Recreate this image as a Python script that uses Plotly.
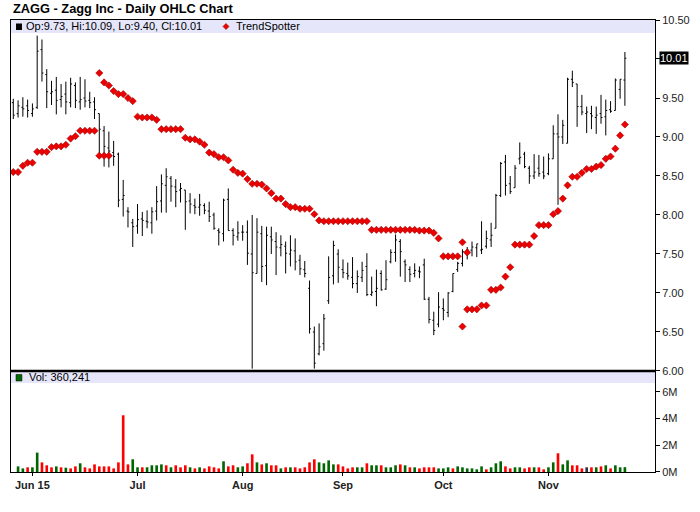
import pandas as pd
import plotly.graph_objects as go

# trading days on the chart, May 26 2015 .. Nov 24 2015 (market holidays left out)
holidays = ['2015-07-03', '2015-09-07']
days = [d.strftime('%Y-%m-%d') for d in pd.bdate_range('2015-05-26', '2015-11-24')
        if d.strftime('%Y-%m-%d') not in holidays]

opens = [9.44, 9.30, 9.38, 9.40, 9.30, 9.38, 10.12, 9.80, 9.56, 9.60,
         9.48, 9.55, 9.44, 9.66, 9.45, 9.50, 9.47, 9.45, 9.30, 9.08,
         8.86, 8.80, 8.78, 8.20, 8.05, 7.90, 7.86, 7.95, 7.92, 7.90,
         8.05, 8.18, 8.38, 8.47, 8.36, 8.32, 8.32, 8.18, 8.12, 8.10,
         8.12, 8.05, 8.00, 7.80, 7.76, 8.20, 7.80, 7.72, 7.78, 7.78,
         7.50, 7.25, 7.76, 7.35, 7.72, 7.66, 7.58, 7.60, 7.50, 7.54,
         7.42, 7.30, 7.06, 6.50, 6.22, 6.35, 6.90, 7.22, 7.50, 7.30,
         7.25, 7.20, 7.12, 7.20, 7.34, 6.98, 7.02, 7.25, 7.05, 7.40,
         7.52, 7.66, 7.40, 7.30, 7.25, 7.28, 7.36, 6.92, 6.65, 6.60,
         6.80, 6.75, 7.02, 7.30, 7.38, 7.50, 7.55, 7.58, 7.55, 7.60,
         7.68, 7.83, 8.25, 8.68, 8.40, 8.35, 8.72, 8.78, 8.60, 8.50,
         8.60, 8.55, 8.53, 8.72, 9.04, 9.00, 8.92, 9.74, 9.68, 9.39,
         9.30, 9.30, 9.25, 9.30, 9.26, 9.35, 9.34, 9.61, 9.73]
highs = [9.49, 9.47, 9.51, 9.48, 9.43, 10.30, 10.25, 9.87, 9.72, 9.77,
         9.68, 9.71, 9.76, 9.70, 9.77, 9.74, 9.58, 9.51, 9.30, 9.14,
         9.07, 8.95, 8.80, 8.45, 8.10, 7.95, 8.14, 8.04, 8.06, 8.10,
         8.37, 8.52, 8.60, 8.50, 8.46, 8.41, 8.32, 8.28, 8.21, 8.27,
         8.15, 8.17, 8.03, 7.83, 8.21, 8.34, 7.83, 7.92, 7.87, 7.93,
         8.00, 7.96, 7.86, 7.85, 7.85, 7.78, 7.74, 7.66, 7.74, 7.70,
         7.49, 7.41, 7.16, 6.57, 6.61, 6.73, 7.47, 7.67, 7.56, 7.43,
         7.39, 7.46, 7.29, 7.40, 7.51, 7.21, 7.30, 7.29, 7.42, 7.56,
         7.75, 7.69, 7.43, 7.34, 7.38, 7.34, 7.44, 6.95, 6.76, 7.01,
         6.93, 7.01, 7.25, 7.40, 7.56, 7.59, 7.66, 7.63, 7.92, 7.80,
         7.90, 8.27, 8.68, 8.77, 8.50, 8.64, 8.93, 8.81, 8.63, 8.78,
         8.77, 8.75, 8.79, 9.15, 9.29, 9.22, 9.76, 9.85, 9.68, 9.54,
         9.39, 9.40, 9.39, 9.54, 9.48, 9.46, 9.75, 9.74, 10.09]
lows = [9.23, 9.25, 9.26, 9.25, 9.26, 9.36, 9.71, 9.37, 9.41, 9.29,
        9.38, 9.29, 9.38, 9.37, 9.35, 9.38, 9.37, 9.23, 8.77, 8.62,
        8.61, 8.63, 8.10, 7.98, 7.84, 7.59, 7.76, 7.73, 7.83, 7.76,
        7.93, 8.03, 8.03, 8.17, 8.10, 8.16, 7.81, 8.02, 8.01, 7.99,
        8.01, 7.91, 7.81, 7.61, 7.66, 7.80, 7.61, 7.67, 7.67, 7.36,
        6.03, 7.25, 7.14, 7.10, 7.50, 7.23, 7.47, 7.25, 7.34, 7.29,
        7.23, 7.20, 6.48, 6.03, 6.20, 6.26, 6.86, 7.11, 7.13, 7.19,
        7.17, 7.06, 7.00, 7.14, 6.96, 6.96, 6.83, 7.03, 7.04, 7.38,
        7.40, 7.21, 7.14, 7.14, 7.20, 7.19, 6.91, 6.61, 6.46, 6.56,
        6.65, 6.69, 7.01, 7.27, 7.34, 7.43, 7.47, 7.46, 7.50, 7.57,
        7.59, 7.83, 8.23, 8.25, 8.27, 8.35, 8.65, 8.60, 8.40, 8.46,
        8.49, 8.46, 8.51, 8.72, 8.13, 8.91, 8.92, 9.64, 9.13, 9.28,
        9.05, 9.10, 9.04, 9.17, 9.02, 9.31, 9.34, 9.49, 9.40]
closes = [9.28, 9.40, 9.36, 9.34, 9.36, 10.10, 9.82, 9.58, 9.58, 9.47,
          9.52, 9.45, 9.68, 9.47, 9.48, 9.46, 9.44, 9.35, 9.10, 8.88,
          8.82, 8.75, 8.19, 8.25, 8.04, 7.85, 7.94, 7.93, 7.91, 8.04,
          8.17, 8.40, 8.49, 8.37, 8.30, 8.34, 8.17, 8.14, 8.10, 8.13,
          8.06, 7.98, 7.83, 7.78, 8.19, 7.80, 7.74, 7.77, 7.78, 7.51,
          7.26, 7.78, 7.34, 7.74, 7.68, 7.59, 7.62, 7.51, 7.55, 7.40,
          7.31, 7.25, 6.54, 6.10, 6.31, 6.67, 7.20, 7.61, 7.33, 7.26,
          7.22, 7.12, 7.21, 7.29, 6.98, 7.01, 7.06, 7.04, 7.17, 7.52,
          7.68, 7.53, 7.36, 7.24, 7.29, 7.27, 6.92, 6.66, 6.52, 6.82,
          6.78, 7.00, 7.25, 7.38, 7.53, 7.55, 7.59, 7.63, 7.56, 7.70,
          7.74, 8.25, 8.66, 8.38, 8.30, 8.60, 8.74, 8.62, 8.50, 8.55,
          8.53, 8.50, 8.72, 9.04, 9.00, 9.15, 9.74, 9.70, 9.39, 9.32,
          9.32, 9.27, 9.28, 9.25, 9.34, 9.33, 9.73, 9.74, 10.01]

# volume in millions of shares, first day not drawn on the chart
volumes = [None, 0.42, 0.27, 0.35, 0.35, 1.45, 0.72, 0.50, 0.35, 0.42,
           0.35, 0.32, 0.27, 0.42, 0.65, 0.35, 0.27, 0.57, 0.42, 0.42,
           0.42, 0.27, 0.72, 4.24, 0.57, 0.95, 0.35, 0.35, 0.35, 0.50,
           0.50, 0.57, 0.50, 0.35, 0.50, 0.35, 0.50, 0.35, 0.27, 0.35,
           0.27, 0.42, 0.35, 0.27, 0.80, 0.42, 0.50, 0.35, 0.42, 0.65,
           1.32, 0.72, 0.57, 0.65, 0.50, 0.50, 0.27, 0.35, 0.35, 0.35,
           0.27, 0.35, 0.72, 0.95, 0.72, 0.65, 0.87, 0.57, 0.57, 0.42,
           0.27, 0.35, 0.35, 0.35, 0.65, 0.50, 0.50, 0.50, 0.35, 0.35,
           0.50, 0.57, 0.50, 0.35, 0.35, 0.27, 0.35, 0.35, 0.35, 0.27,
           0.27, 0.35, 0.27, 0.42, 0.35, 0.27, 0.27, 0.20, 0.42, 0.20,
           0.35, 0.65, 0.80, 0.42, 0.27, 0.35, 0.35, 0.27, 0.35, 0.35,
           0.35, 0.20, 0.35, 0.72, 1.40, 0.57, 0.87, 0.50, 0.50, 0.27,
           0.35, 0.35, 0.35, 0.42, 0.50, 0.27, 0.50, 0.35, 0.36]
# u = up day, d = down day, n = unchanged
vol_dir = list("uuuduudddu" "dudduddddd" "ddddduuduu" "uududddudu" "ddddudduud"
               "dududdudud" "dddduuuudd" "dduuduuduu" "udududdddu" "uuduuuuuud"
               "uuudduuddu" "dduuduuddd" "ndududuuu")

# TrendSpotter stops, three runs with their first day index
trend_a_start = 0
trend_a = [8.55, 8.55, 8.63, 8.67, 8.67, 8.81, 8.81, 8.81, 8.87, 8.88, 8.88,
           8.90, 8.98, 9.01, 9.08, 9.08, 9.08, 9.08, 8.76, 8.76, 8.76]
trend_b_start = 18
trend_b = [9.82, 9.70, 9.66, 9.59, 9.55, 9.55, 9.50, 9.46,
           9.26, 9.25, 9.25, 9.25, 9.22,
           9.10, 9.10, 9.10, 9.10, 9.10,
           8.99, 8.97, 8.97, 8.94, 8.90, 8.80, 8.78, 8.74,
           8.74, 8.70, 8.58, 8.54, 8.53, 8.46, 8.40, 8.40, 8.39, 8.34,
           8.28, 8.21, 8.21, 8.14, 8.10, 8.10, 8.08, 8.08, 8.08, 8.01,
           7.93, 7.92, 7.92, 7.92, 7.92, 7.92, 7.92, 7.92, 7.92, 7.92, 7.92,
           7.81, 7.81, 7.81, 7.81, 7.81, 7.81, 7.81, 7.81, 7.81, 7.81,
           7.80, 7.80, 7.80, 7.77, 7.70,
           7.47, 7.47, 7.47, 7.47, 7.65, 7.52]
trend_c_start = 94
trend_c = [6.57, 6.79, 6.79, 6.79, 6.84, 6.84, 7.04, 7.04, 7.07, 7.21,
           7.33, 7.62, 7.62, 7.62, 7.62, 7.73, 7.87, 7.87, 7.87, 8.01,
           8.05, 8.21, 8.38, 8.49, 8.49, 8.54, 8.59, 8.59, 8.62, 8.64,
           8.72, 8.75, 8.85, 9.02, 9.16]

month_labels = ['Jun 15', 'Jul', 'Aug', 'Sep', 'Oct', 'Nov']
price_ticks = [6.0, 6.5, 7.0, 7.5, 8.0, 8.5, 9.0, 9.5, 10.5]
vol_ticks = [0, 2, 4, 6]
last_close = 10.01

# first trading day of each month gets a tick
month_days = [d for i, d in enumerate(days) if i > 0 and d[5:7] != days[i - 1][5:7]]

FONT = 'Liberation Sans, Arial, sans-serif'
dir_colors = {'u': '#006600', 'd': '#ff0000', 'n': '#333344'}
x_range = [-0.48, 134.3]
split = 0.2235

fig = go.Figure()

fig.add_trace(go.Ohlc(x=days, open=opens, high=highs, low=lows, close=closes,
                      increasing=dict(line=dict(color='black', width=1)),
                      decreasing=dict(line=dict(color='black', width=1)),
                      tickwidth=0.3, xaxis='x', yaxis='y', hoverinfo='skip'))

for start, vals in [(trend_a_start, trend_a), (trend_b_start, trend_b), (trend_c_start, trend_c)]:
    fig.add_trace(go.Scatter(x=days[start:start + len(vals)], y=vals, mode='markers',
                             marker=dict(symbol='diamond', size=5.5, color='#ee0000',
                                         line=dict(color='#990000', width=0.6)),
                             xaxis='x', yaxis='y', hoverinfo='skip'))

fig.add_trace(go.Bar(x=days, y=[v * 1e6 if v is not None else None for v in volumes],
                     marker=dict(color=[dir_colors[c] for c in vol_dir], line=dict(width=0)),
                     width=0.55, xaxis='x2', yaxis='y2', hoverinfo='skip'))

axis_common = dict(showgrid=False, zeroline=False, showline=True, linecolor='black', linewidth=1)

fig.update_layout(
    width=700, height=512,
    margin=dict(l=10, r=43, t=20, b=40),
    paper_bgcolor='white', plot_bgcolor='white',
    showlegend=False, hovermode=False,
    font=dict(family=FONT, size=11, color='#222222'),
    xaxis=dict(type='category', range=x_range, anchor='y', showticklabels=False, ticks='',
               mirror=True, rangeslider=dict(visible=False), **axis_common),
    yaxis=dict(domain=[split, 1], range=[6, 10.5], side='right', anchor='x', mirror=True,
               tickvals=price_ticks + [last_close],
               ticktext=['%.2f' % v for v in price_ticks] + [''],
               ticks='outside', ticklen=4, tickcolor='black', **axis_common),
    xaxis2=dict(type='category', range=x_range, anchor='y2', mirror=True,
                tickvals=month_days, ticktext=['<b>%s</b>' % m for m in month_labels],
                ticks='outside', ticklen=3, tickcolor='black', tickangle=0, **axis_common),
    yaxis2=dict(domain=[0, split], range=[0, 7.55e6], side='right', anchor='x2', mirror=True,
                tickvals=[v * 1e6 for v in vol_ticks], ticktext=['%dM' % v for v in vol_ticks],
                ticks='outside', ticklen=4, tickcolor='black', **axis_common),
)

shapes = [
    # lavender legend bands
    dict(type='rect', xref='paper', yref='y domain', x0=0, x1=1, y0=1 - 13 / 351, y1=1,
         fillcolor='#e6e6fa', line=dict(width=0), layer='below'),
    dict(type='rect', xref='paper', yref='y2 domain', x0=0, x1=1, y0=1 - 12 / 101, y1=1,
         fillcolor='#e6e6fa', line=dict(width=0), layer='below'),
    # black key square for price, green for volume
    dict(type='rect', xref='paper', yref='y domain', x0=5 / 647, x1=11 / 647,
         y0=1 - 10 / 351, y1=1 - 3.5 / 351, fillcolor='black', line=dict(width=0)),
    dict(type='rect', xref='paper', yref='y2 domain', x0=5 / 647, x1=11 / 647,
         y0=1 - 10 / 101, y1=1 - 3.5 / 101, fillcolor='#006600', line=dict(color='black', width=0.5)),
    # red TrendSpotter key
    dict(type='path', xref='paper', yref='y domain',
         path='M %f,%f L %f,%f L %f,%f L %f,%f Z' % (
             216 / 647 - 3 / 647, 1 - 6.5 / 351, 216 / 647, 1 - 3.5 / 351,
             216 / 647 + 3 / 647, 1 - 6.5 / 351, 216 / 647, 1 - 9.5 / 351),
         fillcolor='#ee0000', line=dict(color='#990000', width=0.6)),
    # thick separator between price and volume panes
    dict(type='line', xref='paper', yref='paper', x0=0, x1=1, y0=split, y1=split,
         line=dict(color='black', width=2.5)),
]

annotations = [
    dict(text='<b>ZAGG - Zagg Inc - Daily OHLC Chart</b>', xref='paper', yref='paper',
         x=0, y=1, xanchor='left', yanchor='bottom', yshift=2, showarrow=False,
         font=dict(family=FONT, size=12.8, color='black')),
    dict(text='Op:9.73, Hi:10.09, Lo:9.40, Cl:10.01', xref='paper', yref='y domain',
         x=13 / 647, y=1 - 6.5 / 351, xanchor='left', yanchor='middle', showarrow=False,
         font=dict(family=FONT, size=11, color='black')),
    dict(text='TrendSpotter', xref='paper', yref='y domain',
         x=224 / 647, y=1 - 6.5 / 351, xanchor='left', yanchor='middle', showarrow=False,
         font=dict(family=FONT, size=11, color='black')),
    dict(text='Vol: 360,241', xref='paper', yref='y2 domain',
         x=16 / 647, y=1 - 6.5 / 101, xanchor='left', yanchor='middle', showarrow=False,
         font=dict(family=FONT, size=11, color='black')),
    dict(text='10.01', xref='paper', yref='y', x=1, y=last_close, xanchor='left',
         yanchor='middle', xshift=4, showarrow=False, bgcolor='black', borderpad=0,
         font=dict(family=FONT, size=11, color='white')),
]

fig.update_layout(shapes=shapes, annotations=annotations)

# drop the browser's default 8px page margin so the chart sits at the window corner
fig.write_html("out.html", config={'displayModeBar': False},
               post_script="document.body.style.margin='0';")
